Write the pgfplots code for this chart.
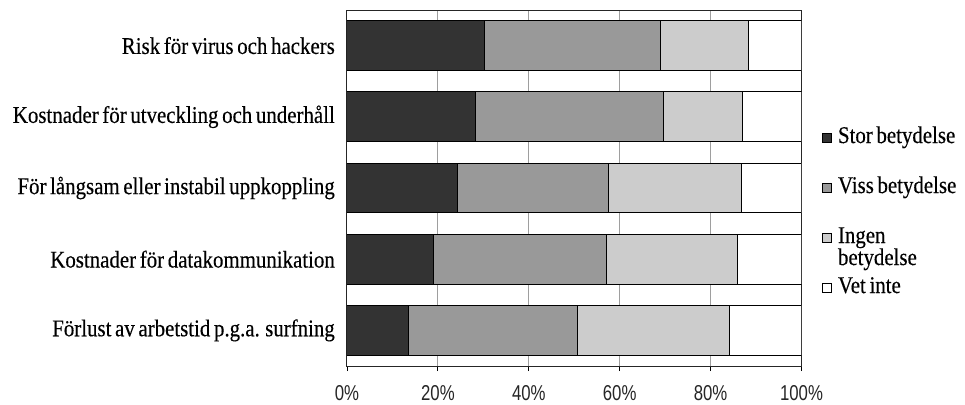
\documentclass[border=0pt]{standalone}
\usepackage{fontspec}
\setmainfont{Liberation Serif}[FakeStretch=0.87, WordSpace=0.7, FakeBold=0.3]
\newfontfamily\tickfont{Liberation Sans}[FakeStretch=0.78]
\usepackage{pgfplots}
\pgfplotsset{compat=1.18}
\definecolor{cdark}{HTML}{333333}
\definecolor{cmid}{HTML}{999999}
\definecolor{clight}{HTML}{CCCCCC}
\begin{document}
\begin{tikzpicture}
\useasboundingbox (-347bp,-39bp) rectangle (618bp,366bp);
\begin{axis}[
  scale only axis,
  width=454.5bp, height=356bp,
  xbar stacked,
  bar width=0.7,
  xmin=0, xmax=100,
  ymin=-0.5, ymax=4.5,
  enlargelimits=false,
  xtick={0,20,40,60,80,100},
  xticklabels={0\%,20\%,40\%,60\%,80\%,100\%},
  xtick pos=bottom,
  xtick align=outside,
  major tick length=5bp,
  xtick style={black, line width=0.8bp},
  xticklabel style={font=\tickfont\fontsize{21.5bp}{23bp}\selectfont, text=black!85, yshift=-11bp},
  ytick={0,1,2,3,4},
  yticklabels={Förlust av arbetstid p.g.a. surfning,
               Kostnader för datakommunikation,
               För långsam eller instabil uppkoppling,
               Kostnader för utveckling och underhåll,
               Risk för virus och hackers},
  ytick style={draw=none},
  yticklabel style={font=\fontsize{24bp}{26bp}\selectfont, inner sep=0pt, xshift=-12bp},
  xmajorgrids,
  grid style={color=black!38, line width=1bp},
  axis line style={black!85, line width=1bp},
  legend cell align=left,
  legend style={draw=none, fill=none, inner sep=0pt,
    at={(axis description cs:1,0.669)}, anchor=north west, xshift=20.5bp,
    row sep=30bp, column sep=6bp,
    nodes={font=\fontsize{24bp}{22bp}\selectfont, text height=15bp, text depth=5bp, inner sep=0pt}},
  legend image code/.code={\draw[#1, line width=0.8bp, draw=black] (0bp,-4.5bp) rectangle (9bp,4.5bp);},
  every axis plot/.append style={draw=black, line width=1bp},
]
\addplot[fill=cdark] coordinates {(13.5,0) (19.0,1) (24.3,2) (28.3,3) (30.3,4)};
\addplot[fill=cmid] coordinates {(37.2,0) (38.1,1) (33.2,2) (41.4,3) (38.7,4)};
\addplot[fill=clight] coordinates {(33.5,0) (28.8,1) (29.2,2) (17.3,3) (19.4,4)};
\addplot[fill=white] coordinates {(15.8,0) (14.1,1) (13.3,2) (13.0,3) (11.6,4)};
\addlegendentry{Stor betydelse}
\addlegendentry{Viss betydelse}
\addlegendentry{\parbox[t]{110bp}{\raggedright\baselineskip=22bp Ingen\\betydelse}}
\addlegendentry{Vet inte}
\end{axis}
\end{tikzpicture}
\end{document}
